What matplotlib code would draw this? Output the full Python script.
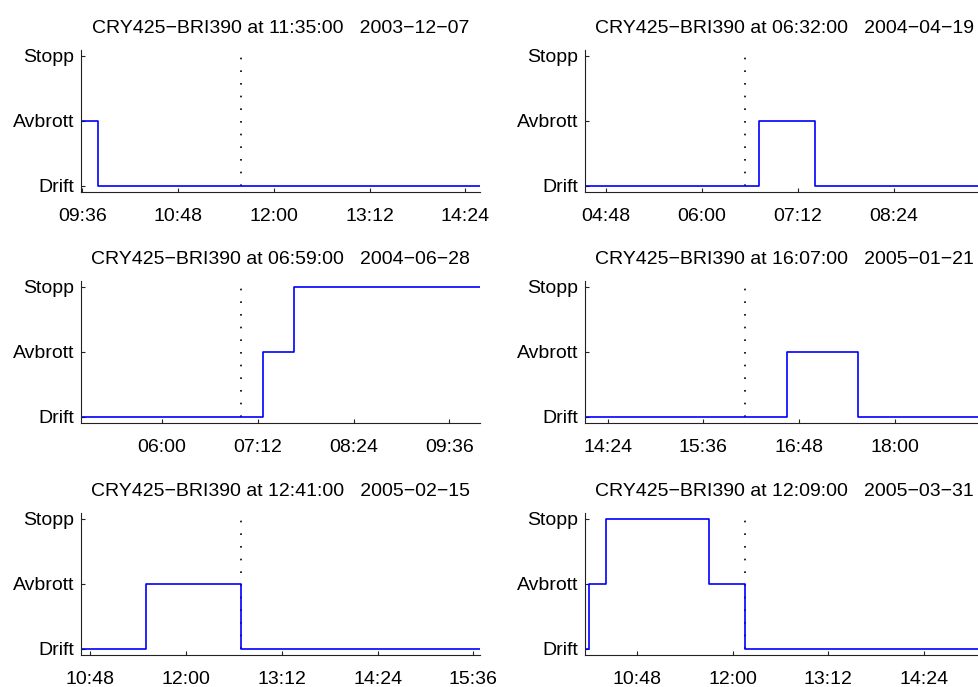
import matplotlib
matplotlib.use("Agg")
import matplotlib.pyplot as plt
import matplotlib.dates as mdates
from matplotlib.ticker import MultipleLocator
from datetime import datetime as dt, timedelta

plt.rcParams['font.family'] = ['Liberation Sans', 'DejaVu Sans']
plt.rcParams['font.size'] = 14

# one panel per event, row by row
event_dates = ['2003-12-07', '2004-04-19', '2004-06-28',
               '2005-01-21', '2005-02-15', '2005-03-31']
event_times = ['11:35', '06:32', '06:59', '16:07', '12:41', '12:09']

# state changes: time of change and new state (0 Drift, 1 Avbrott, 2 Stopp)
change_times = [
    ['09:35', '09:48'],
    ['04:32', '06:43', '07:25'],
    ['04:59', '07:16', '07:39'],
    ['14:07', '16:39', '17:32'],
    ['10:41', '11:30', '12:41'],
    ['10:09', '10:12', '10:25', '11:42', '12:09'],
]
change_states = [
    [1, 0],
    [0, 1, 0],
    [0, 1, 2],
    [0, 1, 0],
    [0, 1, 0],
    [0, 1, 2, 1, 0],
]
state_labels = ['Drift', 'Avbrott', 'Stopp']
link = 'CRY425\u2212BRI390'

fig = plt.figure(figsize=(9.79, 6.87), dpi=100)
W, H = 979.0, 687.0
col_left = [81, 585]
row_top = [49.5, 280.5, 512.5]
ax_w, ax_h = 399, 142

for i in range(6):
    r, c = divmod(i, 2)
    ax = fig.add_axes([col_left[c] / W, 1 - (row_top[r] + ax_h) / H, ax_w / W, ax_h / H])

    day = event_dates[i]
    ev = dt.strptime(day + ' ' + event_times[i], '%Y-%m-%d %H:%M')
    start = ev - timedelta(hours=2)
    end = ev + timedelta(hours=3)

    xs = [dt.strptime(day + ' ' + t, '%Y-%m-%d %H:%M') for t in change_times[i]] + [end]
    ys = change_states[i] + [change_states[i][-1]]
    ax.vlines(ev, 0, 2.1, colors='k', linestyles=(0, (1, 6.6)), lw=1.2)
    ax.step(xs, ys, where='post', color='#0000ff', lw=1.2)

    ax.set_xlim(start, end)
    ax.set_ylim(-0.085, 2.1)
    ax.set_yticks([0, 1, 2])
    ax.set_yticklabels(state_labels)
    ax.xaxis.set_major_locator(MultipleLocator(72 / 1440))
    ax.xaxis.set_major_formatter(mdates.DateFormatter('%H:%M'))

    for s in ['top', 'right']:
        ax.spines[s].set_visible(False)
    for s in ['left', 'bottom']:
        ax.spines[s].set_linewidth(0.8)
        ax.spines[s].set_color('#222222')
    ax.tick_params(direction='in', length=3, width=0.8, color='#222222')
    ax.tick_params(axis='x', pad=12)
    ax.tick_params(axis='y', pad=5)

    date_txt = day.replace('-', '\u2212')
    ax.set_title(f'{link} at {event_times[i]}:00   {date_txt}', fontsize=14, pad=12)

fig.savefig('out.png', dpi=100)
